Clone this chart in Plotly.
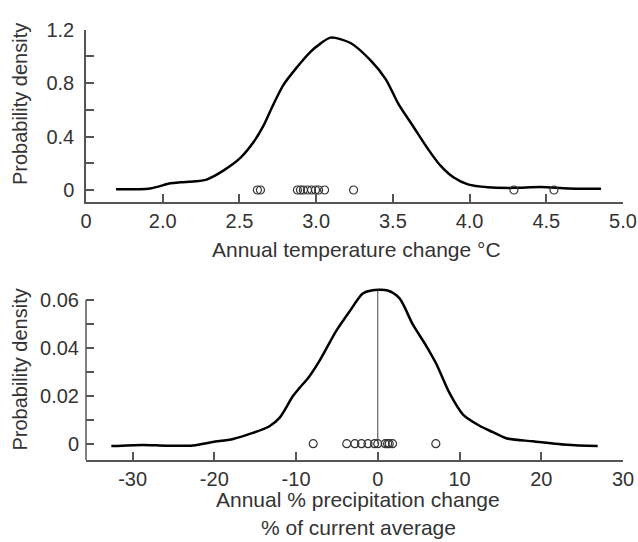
import plotly.graph_objects as go

# ---- Top panel: annual temperature change (°C) ----
temp_x = [1.696, 1.918, 2.049, 2.114, 2.212, 2.290, 2.395, 2.506, 2.591, 2.656,
          2.721, 2.789, 2.876, 2.963, 3.028, 3.094, 3.224, 3.355, 3.453, 3.538,
          3.636, 3.727, 3.812, 3.897, 3.989, 4.119, 4.289, 4.465, 4.642, 4.857]
temp_y = [0.005, 0.012, 0.050, 0.058, 0.065, 0.080, 0.145, 0.240, 0.357, 0.480,
          0.640, 0.790, 0.920, 1.034, 1.095, 1.140, 1.100, 0.970, 0.830, 0.640,
          0.470, 0.310, 0.180, 0.093, 0.042, 0.020, 0.016, 0.022, 0.012, 0.010]
temp_models = [2.617, 2.637, 2.878, 2.898, 2.917, 2.944, 2.970, 2.996, 3.016,
               3.055, 3.244, 4.289, 4.550]
temp_xticks = [1.5, 2.0, 2.5, 3.0, 3.5, 4.0, 4.5, 5.0]
temp_xticklabels = ["0", "2.0", "2.5", "3.0", "3.5", "4.0", "4.5", "5.0"]
temp_yticks = [0, 0.2, 0.4, 0.6, 0.8, 1.0, 1.2]
temp_yticklabels = ["0", "", "0.4", "", "0.8", "", "1.2"]

# ---- Bottom panel: annual % precipitation change ----
prec_x = [-32.6, -28.8, -25.9, -22.6, -20.2, -17.7, -15.3, -13.3, -12.0, -10.4,
          -9.6, -8.4, -7.1, -5.1, -3.46, -1.84, -0.8, 1.2, 2.66, 4.28, 5.92,
          7.15, 8.78, 10.4, 12.45, 14.1, 15.7, 19.0, 23.1, 26.9]
prec_y = [-0.0010, -0.0005, -0.0008, -0.0007, 0.0007, 0.0020, 0.0045, 0.0072,
          0.0109, 0.0198, 0.0232, 0.0280, 0.0348, 0.0470, 0.0552, 0.0627,
          0.0640, 0.0640, 0.0607, 0.0498, 0.0409, 0.0334, 0.0211, 0.0123,
          0.0075, 0.0048, 0.0023, 0.0010, -0.0004, -0.0010]
prec_models = [-7.9, -3.8, -2.8, -2.0, -1.2, -0.4, 0.0, 0.9, 1.2, 1.4, 1.8, 7.1]
prec_xticks = [-30, -20, -10, 0, 10, 20, 30]
prec_xticklabels = ["-30", "-20", "-10", "0", "10", "20", "30"]
prec_yticks = [0, 0.01, 0.02, 0.03, 0.04, 0.05, 0.06]
prec_yticklabels = ["0", "", "0.02", "", "0.04", "", "0.06"]

FONT = "Liberation Sans, Arial, sans-serif"
AX = "#555555"
TXT = "#333333"

fig = go.Figure()
fig.add_trace(go.Scatter(x=temp_x, y=temp_y, mode="lines",
                         line=dict(color="black", width=2.5, shape="spline", smoothing=0.8),
                         xaxis="x", yaxis="y", showlegend=False, hoverinfo="skip"))
fig.add_trace(go.Scatter(x=temp_models, y=[0] * len(temp_models), mode="markers",
                         marker=dict(symbol="circle-open", size=8, color="#333333",
                                     line=dict(width=1.2, color="#333333")),
                         xaxis="x", yaxis="y", showlegend=False))
fig.add_trace(go.Scatter(x=prec_x, y=prec_y, mode="lines",
                         line=dict(color="black", width=2.5, shape="spline", smoothing=0.8),
                         xaxis="x2", yaxis="y2", showlegend=False, hoverinfo="skip"))
fig.add_trace(go.Scatter(x=prec_models, y=[0] * len(prec_models), mode="markers",
                         marker=dict(symbol="circle-open", size=8, color="#333333",
                                     line=dict(width=1.2, color="#333333")),
                         xaxis="x2", yaxis="y2", showlegend=False))

common = dict(ticks="inside", ticklen=8, tickwidth=1.5, tickcolor=AX,
              showgrid=False, zeroline=False,
              tickfont=dict(family=FONT, size=20, color=TXT))

H = 542.0
fig.update_layout(
    width=638, height=542,
    margin=dict(l=86, r=15, t=0, b=0),
    paper_bgcolor="white", plot_bgcolor="white",
    xaxis=dict(domain=[0, 1], anchor="y", range=[1.5, 5.0],
               tickmode="array", tickvals=temp_xticks, ticktext=temp_xticklabels,
               showline=True, linecolor=AX, linewidth=1.5, **common),
    yaxis=dict(domain=[1 - 195 / H, 1 - 19 / H], anchor="x", range=[-0.09, 1.2],
               tickmode="array", tickvals=temp_yticks, ticktext=temp_yticklabels,
               showline=True, linecolor=AX, linewidth=1.5, ticklabelstandoff=6, **common),
    xaxis2=dict(domain=[0, 1], anchor="y2", range=[-35.7, 30],
                tickmode="array", tickvals=prec_xticks, ticktext=prec_xticklabels,
                showline=True, linecolor=AX, linewidth=1.5, **common),
    yaxis2=dict(domain=[1 - 458.3 / H, 1 - 282.8 / H], anchor="x2", range=[-0.0068, 0.065],
                tickmode="array", tickvals=prec_yticks, ticktext=prec_yticklabels,
                showline=False, ticklabelstandoff=6, **common),
    shapes=[
        dict(type="line", xref="x2 domain", yref="y2", x0=0, x1=0,
             y0=-0.0068, y1=prec_yticks[-1], line=dict(color=AX, width=1.5)),
        dict(type="line", xref="x2", yref="y2", x0=0, x1=0,
             y0=0, y1=max(prec_y), line=dict(color="#444444", width=1)),
    ],
    annotations=[
        dict(text="Probability density", xref="paper", yref="paper",
             x=(20 - 86) / 537, y=1 - 95 / H, textangle=-90, showarrow=False,
             xanchor="center", yanchor="middle", font=dict(family=FONT, size=20, color=TXT)),
        dict(text="Probability density", xref="paper", yref="paper",
             x=(20 - 86) / 537, y=1 - 366 / H, textangle=-90, showarrow=False,
             xanchor="center", yanchor="middle", font=dict(family=FONT, size=20, color=TXT)),
        dict(text="Annual temperature change °C", xref="paper", yref="paper",
             x=(356 - 86) / 537, y=1 - 243 / H, showarrow=False,
             xanchor="center", yanchor="middle", font=dict(family=FONT, size=21, color=TXT)),
        dict(text="Annual % precipitation change", xref="paper", yref="paper",
             x=(358 - 86) / 537, y=1 - 499 / H, showarrow=False,
             xanchor="center", yanchor="middle", font=dict(family=FONT, size=21, color=TXT)),
        dict(text="% of current average", xref="paper", yref="paper",
             x=(358 - 86) / 537, y=1 - 527 / H, showarrow=False,
             xanchor="center", yanchor="middle", font=dict(family=FONT, size=21, color=TXT)),
    ],
)

pin_js = (
    "document.documentElement.style.margin='0';"
    "document.body.style.margin='0';document.body.style.padding='0';"
    "var d=document.getElementById('{plot_id}');"
    "d.style.position='fixed';d.style.left='0px';d.style.top='0px';"
)
fig.write_html("out.html", post_script=pin_js, config={"displayModeBar": False})
